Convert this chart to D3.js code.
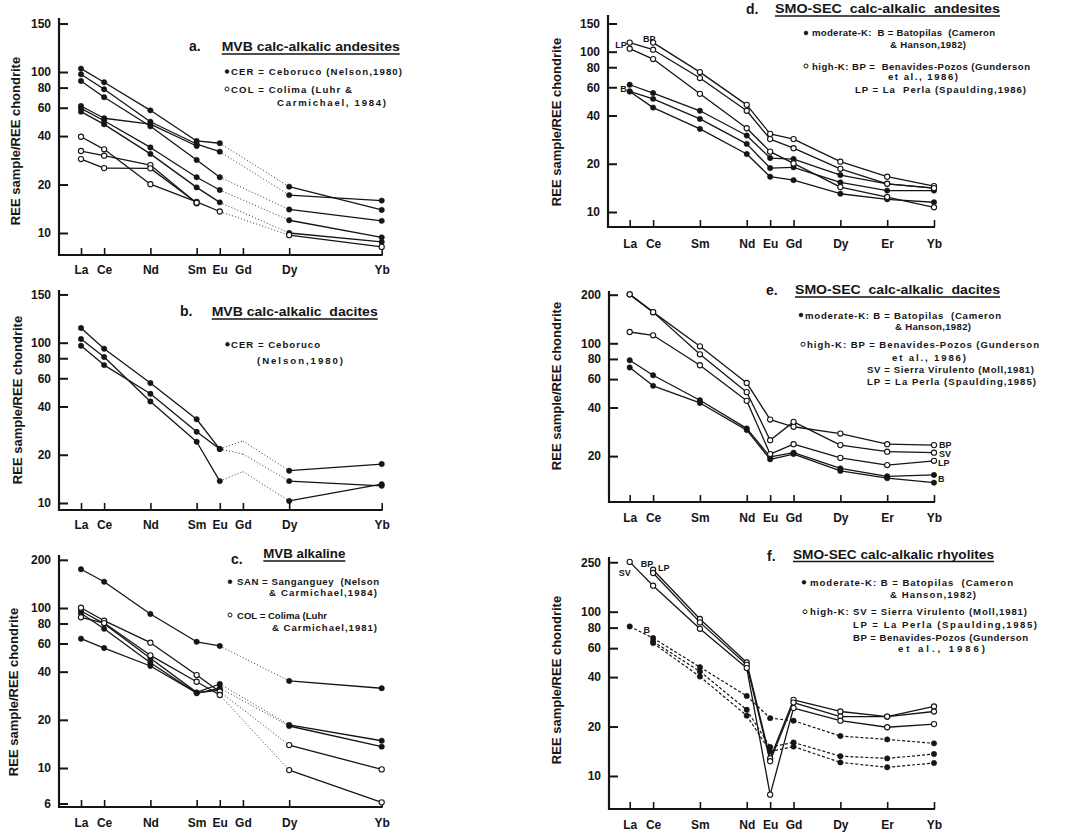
<!DOCTYPE html>
<html>
<head>
<meta charset="utf-8">
<script src="https://cdn.jsdelivr.net/npm/d3@7"></script>
<style>
  body { margin: 0; background: #fff; }
  text { font-family: "Liberation Sans", Arial, Helvetica, sans-serif; font-weight: bold; fill: #151515; }
</style>
</head>
<body>
<script>
// REE elements on the x axis (placed by atomic number)
const leftElems = ['La', 'Ce', 'Nd', 'Sm', 'Eu', 'Gd', 'Dy', 'Yb'];
const leftZ = [57, 58, 60, 62, 63, 64, 66, 70];
// right column is labelled Sm before Nd in the original
const rightElems = ['La', 'Ce', 'Sm', 'Nd', 'Eu', 'Gd', 'Dy', 'Er', 'Yb'];
const rightZ = [57, 58, 60, 62, 63, 64, 66, 68, 70];

// y tick values and the labels printed at them
const tickVals = [10, 20, 40, 60, 80, 100, 200];
const tickLabsAB = ['10', '20', '40', '60', '80', '100', '150'];
const tickValsC = [6, 10, 20, 40, 60, 80, 100, 200];
const tickLabsC = ['6', '10', '20', '40', '60', '80', '100', '200'];
const tickValsD = [10, 20, 40, 60, 80, 100, 150];
const tickLabsD = ['10', '20', '40', '60', '80', '100', '150'];
const tickValsE = [20, 40, 60, 80, 100, 200];
const tickLabsE = ['20', '40', '60', '80', '100', '200'];
const tickLabsF = ['10', '20', '40', '60', '80', '100', '250'];

// a. MVB calc-alkalic andesites  (La Ce Nd Sm Eu Gd Dy Yb)
const aCER = [
  [105, 86.3, 57.8, 37.3, 36.1, null, 19.4, 13.9],
  [96.8, 78.1, 49.1, 35.7, 32.0, null, 17.2, 15.9],
  [88, 69.7, 46, 28.4, 22.2, null, 14.0, 11.9],
  [61.5, 51.6, 47.5, 34.7, null, null, null, null],
  [59.5, 49.8, 34, 22.2, 18.5, null, 12.0, 9.4],
  [56.7, 47.3, 31, 19.2, 15.5, null, 10.0, 8.8]
];
const aCOL = [
  [39.6, 33.1, 20.1, 15.6, 13.6, null, 9.7, 8.2],
  [32.3, 30.2, 26.4, 15.3, null, null, null, null],
  [28.8, 25.3, 25.2, 15.4, null, null, null, null]
];

// b. MVB calc-alkalic dacites (Gd values are unmarked guide points)
const bCER = [
  [123.5, 91.7, 56, 33.3, 21.7, 24.4, 15.9, 17.5],
  [105.5, 81.4, 43, 24.1, 13.7, 15.7, 10.3, 13.1],
  [95.7, 72.5, 48, 27.8, 21.7, 20.2, 13.7, 12.8]
];

// c. MVB alkaline
const cSAN = [
  [174.6, 145.9, 91.7, 61.5, 57.9, null, 35, 31.5],
  [95.7, 79.8, 48.5, 29.7, 33.5, null, 18.6, 14.8],
  [92.7, 74.2, 45.5, 29.3, 31.6, null, 18.3, 13.6],
  [64.3, 56.2, 43.4, 29.5, 30.7, null, null, null]
];
const cCOL = [
  [100.4, 83.3, 60.7, 38.1, 30.0, null, 13.9, 9.8],
  [87.5, 80.5, 50.6, 34.6, 28.6, null, 9.7, 6.1]
];

// d. SMO-SEC calc-alkalic andesites (La Ce Nd Sm Eu Gd Dy Er Yb positions)
const dModK = [
  [62.2, 55.2, 42.8, 30, 21.7, 21.4, 17, 15, 14.1],
  [56.5, 50.8, 38.1, 26.6, 18.8, 19, 15.3, 13.6, 13.6],
  [56.5, 44.8, 33, 23, 16.6, 15.8, 13, 12, 11.5]
];
const dHighK = [
  [null, 114, 74.6, 46.6, 30.7, 28.5, 20.6, 16.6, 14.5],
  [114, 102.9, 68.5, 42.8, 28.5, 25, 18.6, 15, 14.1],
  [104.4, 90, 54.6, 33.3, 23.8, 20.1, 14.3, 12.4, 10.7]
];

// e. SMO-SEC calc-alkalic dacites
const eModK = [
  [78.5, 63.4, 44.4, 29.7, 19.8, 21, 16.8, 15, 15.3],
  [70.8, 54.5, 42.7, 29, 19.1, 20.6, 16.2, 14.6, 13.7]
];
const eHighK = [
  [201, 156, 95.8, 56.8, 33.7, 30.4, 27.6, 23.7, 23.4],
  [201, 156, 85.5, 49.8, 25.1, 32.6, 23.4, 21.3, 21],
  [117.5, 112.1, 73.1, 44, 20.6, 23.7, 19.5, 17.6, 18.7]
];

// f. SMO-SEC calc-alkalic rhyolites
const fModK = [
  [81.3, 69.1, 46, 30.7, 22.5, 21.7, 17.5, 16.7, 15.8],
  [null, 65.9, 43.3, 25.3, 15, 16, 13.2, 12.8, 13.6],
  [null, 64.4, 40.3, 23.3, 14.1, 15.1, 12.1, 11.3, 12]
];
const fHighK = [
  [null, 180, 90.3, 49.1, 12.8, 29.1, 24.7, 23, 26.5],
  [null, 172, 86.1, 47.5, 12.3, 28, 23, 23, 24.7],
  [201, 144, 78.7, 45.4, 7.7, 25.9, 21.7, 19.8, 20.7]
];

const W = 1067, H = 833;
const ink = '#151515';

const panels = [
  {
    ax: 59, base: 255, top: 18, xr: [81, 381.7], y10: 233, y100: 72,
    elems: leftElems, z: leftZ, ticks: tickVals, tickLabs: tickLabsAB, pad: 10,
    series: [{ data: aCER, filled: true }, { data: aCOL, filled: false }], unmarked: [],
    yTitle: [15, 141],
    letter: ['a.', 189, 51], title: ['MVB calc-alkalic andesites', 221.7, 51, 178],
    legend: [
      { m: 'f', mx: 227, my: 71.5, t: 'CER = Ceboruco (Nelson,1980)', x: 231, y: 75, w: 171 },
      { m: 'o', mx: 227, my: 89, t: 'COL = Colima (Luhr &', x: 231, y: 92.5, w: 121 },
      { t: 'Carmichael, 1984)', x: 277, y: 106, w: 109 }
    ],
    notes: []
  },
  {
    ax: 59, base: 510, top: 290, xr: [81, 381.7], y10: 503, y100: 342.7,
    elems: leftElems, z: leftZ, ticks: tickVals, tickLabs: tickLabsAB, pad: 10,
    series: [{ data: bCER, filled: true }], unmarked: [5],
    yTitle: [17, 400],
    letter: ['b.', 180, 316], title: ['MVB calc-alkalic  dacites', 211.7, 316, 166],
    legend: [
      { m: 'f', mx: 227.5, my: 344.3, t: 'CER = Ceboruco', x: 231, y: 347.5, w: 89 },
      { t: '(Nelson,1980)', x: 257, y: 363.5, w: 86 }
    ],
    notes: []
  },
  {
    ax: 59, base: 807, top: 555, xr: [81, 381.7], y10: 768, y100: 608,
    elems: leftElems, z: leftZ, ticks: tickValsC, tickLabs: tickLabsC, pad: 11,
    series: [{ data: cSAN, filled: true }, { data: cCOL, filled: false }], unmarked: [],
    yTitle: [13, 692],
    letter: ['c.', 231, 564], title: ['MVB alkaline', 263.3, 558, 82],
    legend: [
      { m: 'f', mx: 230, my: 581.7, t: 'SAN = Sanganguey  (Nelson', x: 237, y: 585, w: 142 },
      { t: '& Carmichael,1984)', x: 269, y: 596, w: 108 },
      { m: 'o', mx: 230, my: 615, t: 'COL = Colima (Luhr', x: 237, y: 618.5, w: 90 },
      { t: '& Carmichael,1981)', x: 272, y: 631, w: 105 }
    ],
    notes: []
  },
  {
    ax: 608, base: 227, top: 15, xr: [629.7, 934], y10: 212, y100: 51.7,
    elems: rightElems, z: rightZ, ticks: tickValsD, tickLabs: tickLabsD, pad: 12,
    series: [{ data: dModK, filled: true }, { data: dHighK, filled: false }], unmarked: [],
    yTitle: [556, 122],
    letter: ['d.', 746, 14], title: ['SMO-SEC  calc-alkalic  andesites', 775, 13, 225],
    legend: [
      { m: 'f', mx: 806, my: 33, t: 'moderate-K:  B = Batopilas  (Cameron', x: 812, y: 36, w: 183 },
      { t: '& Hanson,1982)', x: 890, y: 48, w: 76 },
      { m: 'o', mx: 806, my: 66, t: 'high-K: BP =  Benavides-Pozos (Gunderson', x: 812, y: 69.5, w: 218 },
      { t: 'et al., 1986)', x: 888, y: 80, w: 70 },
      { t: 'LP = La  Perla (Spaulding,1986)', x: 855, y: 93, w: 171 }
    ],
    notes: [
      { t: 'LP', z: 57, v: 114, dx: -3, dy: 5, a: 'end' },
      { t: 'BP', z: 58, v: 114, dx: -10, dy: -1, a: 'start' },
      { t: 'B', z: 57, v: 62.2, dx: -3, dy: 7, a: 'end' }
    ]
  },
  {
    ax: 609, base: 502, top: 291, xr: [629.7, 934], y10: 504.7, y100: 343.3,
    elems: rightElems, z: rightZ, ticks: tickValsE, tickLabs: tickLabsE, pad: 11,
    series: [{ data: eModK, filled: true }, { data: eHighK, filled: false }], unmarked: [],
    yTitle: [556, 386],
    letter: ['e.', 766, 295], title: ['SMO-SEC  calc-alkalic  dacites', 795, 294, 205],
    legend: [
      { m: 'f', mx: 801, my: 315, t: 'moderate-K: B = Batopilas  (Cameron', x: 805, y: 318.5, w: 196 },
      { t: '& Hanson,1982)', x: 895, y: 329.5, w: 76 },
      { m: 'o', mx: 803, my: 344.3, t: 'high-K: BP = Benavides-Pozos (Gunderson', x: 807, y: 347.5, w: 232 },
      { t: 'et al., 1986)', x: 892, y: 361, w: 74 },
      { t: 'SV = Sierra Virulento (Moll,1981)', x: 867, y: 372.5, w: 167 },
      { t: 'LP = La Perla (Spaulding,1985)', x: 867, y: 385, w: 169 }
    ],
    notes: [
      { t: 'BP', z: 70, v: 23.4, dx: 5, dy: 2.5, a: 'start' },
      { t: 'SV', z: 70, v: 21, dx: 5, dy: 4.5, a: 'start' },
      { t: 'LP', z: 70, v: 18.7, dx: 4, dy: 5.5, a: 'start' },
      { t: 'B', z: 70, v: 15.3, dx: 4, dy: 7.5, a: 'start' }
    ]
  },
  {
    ax: 609, base: 809, top: 557, xr: [629.7, 934], y10: 776, y100: 611.7,
    elems: rightElems, z: rightZ, ticks: tickVals, tickLabs: tickLabsF, pad: 11,
    series: [{ data: fModK, filled: true, dashed: true }, { data: fHighK, filled: false }], unmarked: [],
    yTitle: [556, 680],
    letter: ['f.', 767, 561], title: ['SMO-SEC calc-alkalic rhyolites', 793, 558.5, 201],
    legend: [
      { m: 'f', mx: 804, my: 582.3, t: 'moderate-K: B = Batopilas  (Cameron', x: 810, y: 585.5, w: 203 },
      { t: '& Hanson,1982)', x: 890, y: 597.5, w: 86 },
      { m: 'o', mx: 805, my: 611.7, t: 'high-K: SV = Sierra Virulento (Moll,1981)', x: 810, y: 615, w: 217 },
      { t: 'LP = La Perla (Spaulding,1985)', x: 853, y: 628, w: 184 },
      { t: 'BP = Benavides-Pozos (Gunderson', x: 853, y: 640.5, w: 175 },
      { t: 'et al., 1986)', x: 898, y: 652, w: 87 }
    ],
    notes: [
      { t: 'SV', z: 57, v: 201, dx: -5, dy: 14.5, a: 'middle' },
      { t: 'BP', z: 58, v: 180, dx: -6, dy: -2.5, a: 'middle' },
      { t: 'LP', z: 58, v: 172, dx: 5, dy: -2.5, a: 'start' },
      { t: 'B', z: 58, v: 69.1, dx: -3, dy: -5, a: 'end' }
    ]
  }
];

const svg = d3.select('body').append('svg')
  .attr('width', W).attr('height', H)
  .style('display', 'block');

panels.forEach(p => {
  const x = d3.scaleLinear().domain([57, 70]).range(p.xr);
  const y = d3.scaleLog().domain([10, 100]).range([p.y10, p.y100]);
  const g = svg.append('g');

  // axis lines
  g.append('line')
    .attr('x1', p.ax).attr('x2', p.ax).attr('y1', p.top).attr('y2', p.base + 1)
    .attr('stroke', ink).attr('stroke-width', 2.2);
  g.append('line')
    .attr('x1', p.ax - 1).attr('x2', p.xr[1] + 1).attr('y1', p.base).attr('y2', p.base)
    .attr('stroke', ink).attr('stroke-width', 2.2);

  // y axis: ticks point inward, labels outside
  const yAxis = d3.axisLeft(y)
    .tickValues(p.ticks)
    .tickFormat((d, i) => p.tickLabs[i])
    .tickSizeInner(-9).tickSizeOuter(0).tickPadding(8);
  const gy = g.append('g').attr('transform', `translate(${p.ax},0)`).call(yAxis);
  gy.select('.domain').remove();
  gy.selectAll('.tick line').attr('stroke', ink).attr('stroke-width', 2);
  gy.selectAll('.tick text')
    .attr('font-size', 12).attr('font-family', null).attr('fill', ink);

  // x axis: element ticks
  const xAxis = d3.axisBottom(x)
    .tickValues(p.z)
    .tickFormat((d, i) => p.elems[i])
    .tickSizeInner(-7).tickSizeOuter(0).tickPadding(p.pad);
  const gx = g.append('g').attr('transform', `translate(0,${p.base})`).call(xAxis);
  gx.select('.domain').remove();
  gx.selectAll('.tick line').attr('stroke', ink).attr('stroke-width', 1.6);
  gx.selectAll('.tick text')
    .attr('font-size', 12).attr('font-family', null).attr('fill', ink);

  // y title
  g.append('text')
    .attr('transform', `translate(${p.yTitle[0]},${p.yTitle[1]}) rotate(-90)`)
    .attr('text-anchor', 'middle').attr('dy', '0.35em')
    .attr('font-size', 13)
    .text('REE sample/REE chondrite');

  // series lines
  const line = d3.line();
  p.series.forEach(s => {
    s.data.forEach(vals => {
      const idx = vals.map((v, i) => v == null ? -1 : i).filter(i => i >= 0);
      for (let k = 0; k < idx.length - 1; k++) {
        const i = idx[k], j = idx[k + 1];
        const dotted = (j - i > 1) || p.unmarked.includes(i) || p.unmarked.includes(j);
        const path = g.append('path')
          .attr('d', line([[x(p.z[i]), y(vals[i])], [x(p.z[j]), y(vals[j])]]))
          .attr('fill', 'none').attr('stroke', ink);
        if (dotted) {
          path.attr('stroke-width', 1).attr('stroke-dasharray', '1,2.2').attr('opacity', 0.85);
        } else if (s.dashed) {
          path.attr('stroke-width', 1.2).attr('stroke-dasharray', '3,2');
        } else {
          path.attr('stroke-width', 1.3);
        }
      }
    });
  });

  // markers
  p.series.forEach(s => {
    s.data.forEach(vals => {
      vals.forEach((v, i) => {
        if (v == null || p.unmarked.includes(i)) return;
        g.append('circle')
          .attr('cx', x(p.z[i])).attr('cy', y(v)).attr('r', s.filled ? 2.7 : 2.6)
          .attr('fill', s.filled ? ink : '#fff')
          .attr('stroke', ink).attr('stroke-width', s.filled ? 0.5 : 1.1);
      });
    });
  });

  // point notes
  p.notes.forEach(n => {
    g.append('text')
      .attr('x', x(n.z) + n.dx).attr('y', y(n.v) + n.dy)
      .attr('text-anchor', n.a).attr('font-size', 9)
      .text(n.t);
  });

  // title with underline
  g.append('text')
    .attr('x', p.letter[1]).attr('y', p.letter[2])
    .attr('font-size', 14).text(p.letter[0]);
  g.append('text')
    .attr('x', p.title[1]).attr('y', p.title[2])
    .attr('font-size', 12.5)
    .attr('textLength', p.title[3]).attr('lengthAdjust', 'spacingAndGlyphs')
    .style('white-space', 'pre')
    .text(p.title[0]);
  g.append('line')
    .attr('x1', p.title[1]).attr('x2', p.title[1] + p.title[3])
    .attr('y1', p.title[2] + 3).attr('y2', p.title[2] + 3)
    .attr('stroke', ink).attr('stroke-width', 1.5);

  // legend (letter-spaced like the typed original)
  p.legend.forEach(l => {
    if (l.m) {
      g.append('circle')
        .attr('cx', l.mx).attr('cy', l.my).attr('r', 2)
        .attr('fill', l.m === 'f' ? ink : '#fff')
        .attr('stroke', ink).attr('stroke-width', l.m === 'f' ? 0.4 : 1);
    }
    g.append('text')
      .attr('x', l.x).attr('y', l.y)
      .attr('font-size', 9.6)
      .attr('textLength', l.w).attr('lengthAdjust', 'spacing')
      .style('white-space', 'pre')
      .text(l.t);
  });
});
</script>
</body>
</html>
